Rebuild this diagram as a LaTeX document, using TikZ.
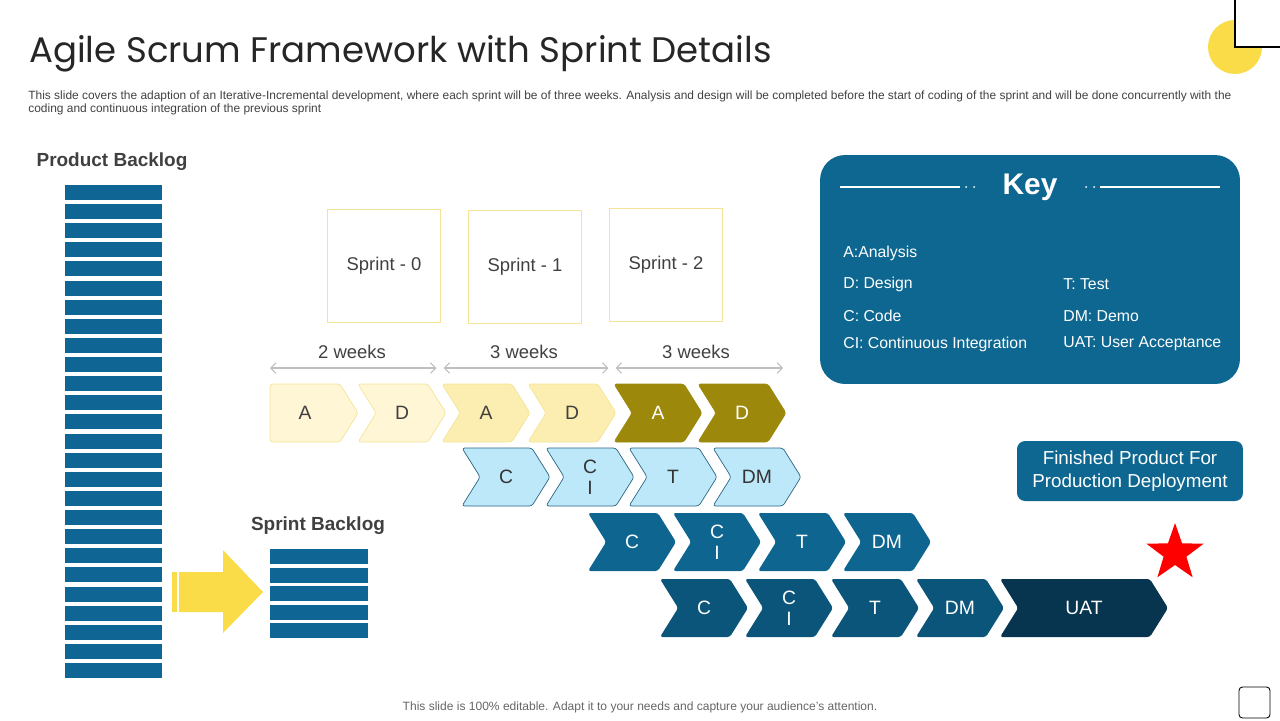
\documentclass[tikz,border=0pt]{standalone}
\usepackage{fontspec}
\setmainfont{Liberation Sans}
\newfontfamily\titlefont{Poppins}
\usepackage{xcolor}
\definecolor{barblue}{RGB}{15,102,148}
\definecolor{keyblue}{RGB}{13,103,145}
\definecolor{rowblue}{RGB}{14,101,144}
\definecolor{deepblue}{RGB}{12,85,122}
\definecolor{uatblue}{RGB}{7,52,78}
\definecolor{skyfill}{RGB}{189,232,249}
\definecolor{skyline}{RGB}{40,100,130}
\definecolor{paleyellow}{RGB}{255,246,214}
\definecolor{midyellow}{RGB}{252,238,176}
\definecolor{edgeyellow}{RGB}{245,228,150}
\definecolor{olive}{RGB}{156,137,11}
\definecolor{sunyellow}{RGB}{249,220,72}
\definecolor{weekgray}{RGB}{191,191,191}
\definecolor{textgray}{RGB}{64,64,64}
\usetikzlibrary{shapes.symbols,shapes.geometric,arrows.meta,positioning}

\begin{document}
\begin{tikzpicture}[
  x=0.02cm, y=-0.02cm,
  chev/.style={signal, signal to=east, signal from=west, signal pointer angle=116,
    minimum width=1.76cm, minimum height=1.16cm, inner sep=0pt,
    rounded corners=1.5pt, font=\fontsize{11}{12}\selectfont, align=center},
  yelA/.style={chev, fill=paleyellow, draw=edgeyellow, text=textgray},
  yelB/.style={chev, fill=midyellow, draw=edgeyellow, text=textgray},
  yelC/.style={chev, fill=olive, draw=olive, text=white},
  skyC/.style={chev, fill=skyfill, draw=skyline, line width=0.4pt, text=black!80},
  rowC/.style={chev, fill=rowblue, text=white},
  deepC/.style={chev, fill=deepblue, text=white},
  sprintbox/.style={rectangle, draw=edgeyellow, line width=0.6pt, minimum width=2.26cm,
    minimum height=2.26cm, font=\fontsize{10.5}{12}\selectfont, text=textgray},
  weekarr/.style={{Straight Barb[length=3pt]}-{Straight Barb[length=3pt]}, weekgray, line width=0.6pt},
  weeklbl/.style={font=\fontsize{10.5}{12}\selectfont, text=textgray},
  keytxt/.style={anchor=west, font=\fontsize{9}{11}\selectfont, text=white, inner sep=0pt},
  headlbl/.style={font=\bfseries\fontsize{10.8}{12}\selectfont, text=textgray}
]
\useasboundingbox (0,0) rectangle (1280,720);

%% title and notes
\node[anchor=west, inner sep=0pt, font=\titlefont\fontsize{20.2}{24}\selectfont, text=black!85] (title) at (29,54)
  {Agile Scrum Framework with Sprint Details};
\node[anchor=north west, inner sep=0pt, align=left, font=\fontsize{6.8}{7.4}\selectfont, text=textgray] (intro) at (28,90)
  {This slide covers the adaption of an Iterative-Incremental development, where each sprint will be of three weeks. Analysis and design will be completed before the start of coding of the sprint and will be done concurrently with the\\
   coding and continuous integration of the previous sprint};
\node[font=\fontsize{6.85}{8}\selectfont, text=black!60] (foot) at (640,707)
  {This slide is 100\% editable. Adapt it to your needs and capture your audience's attention.};

%% corner marks
\fill[sunyellow] (1235,47) circle (27);
\filldraw[fill=white, draw=black, line width=0.6pt] (1235,-5) rectangle (1285,47);
\draw[black, line width=0.5pt, rounded corners=2pt] (1239,687) rectangle (1270,718);

%% product backlog
\node[headlbl] (pblabel) at (112,162) {Product Backlog};
\foreach \i in {0,...,25}
  \fill[barblue] (65,185+19.12*\i) rectangle (162,200+19.12*\i);

%% sprint backlog
\node[headlbl] (sblabel) at (318,526) {Sprint Backlog};
\foreach \i in {0,...,4}
  \fill[barblue] (270,549+18.5*\i) rectangle (368,564+18.5*\i);
\fill[sunyellow] (172,572) rectangle (177,612);
\fill[sunyellow] (179,572) -- (223,572) -- (223,550) -- (263,592) -- (223,633) -- (223,612) -- (179,612) -- cycle;

%% sprints
\node[sprintbox] (sp0) at (384,266) {Sprint - 0};
\node[sprintbox] (sp1) at (525,267) {Sprint - 1};
\node[sprintbox] (sp2) at (666,265) {Sprint - 2};

\coordinate (w0) at (270,368);
\coordinate (w1) at (440,368);
\coordinate (w2) at (612,368);
\coordinate (w3) at (783,368);
\draw[weekarr, shorten >=2] (w0) -- (w1);
\draw[weekarr, shorten <=2, shorten >=2] (w1) -- (w2);
\draw[weekarr, shorten <=2] (w2) -- (w3);
\node[weeklbl] (wk0) at (352,352) {2 weeks};
\node[weeklbl] (wk1) at (524,352) {3 weeks};
\node[weeklbl] (wk2) at (696,352) {3 weeks};

%% chevron rows
\node[yelA, signal from=nowhere] (a0) at (305,413) {A};
\node[yelA] (d0) at (402,413) {D};
\node[yelB] (a1) at (486,413) {A};
\node[yelB] (d1) at (572,413) {D};
\node[yelC] (a2) at (658,413) {A};
\node[yelC] (d2) at (742,413) {D};

\node[skyC] (c1) at (506,477) {C};
\node[skyC] (ci1) at (590,477) {C\\I};
\node[skyC] (t1) at (673,477) {T};
\node[skyC] (dm1) at (757,477) {DM};

\node[rowC] (c2) at (632,542) {C};
\node[rowC] (ci2) at (717,542) {C\\I};
\node[rowC] (t2) at (802,542) {T};
\node[rowC] (dm2) at (887,542) {DM};

\node[deepC] (c3) at (704,608) {C};
\node[deepC] (ci3) at (789,608) {C\\I};
\node[deepC] (t3) at (875,608) {T};
\node[deepC] (dm3) at (960,608) {DM};
\node[deepC, fill=uatblue, minimum width=3.36cm] (uat) at (1084,608) {UAT};

%% key panel
\node[rectangle, fill=keyblue, rounded corners=0.5cm, minimum width=8.4cm, minimum height=4.58cm] (key) at (1030,269.5) {};
\node[font=\bfseries\fontsize{17}{20}\selectfont, text=white] (keyhd) at (1030,187) {Key};
\draw[white, line width=1pt] (840,187) -- (960,187);
\draw[white, line width=1pt] (1100,187) -- (1220,187);
\foreach \x in {966,974,1086,1094} \fill[white] (\x,187) circle (1);
\node[keytxt] (kA) at (843,253) {A:Analysis};
\node[keytxt] (kD) at (843,284) {D: Design};
\node[keytxt] (kC) at (843,316) {C: Code};
\node[keytxt] (kCI) at (843,344) {CI: Continuous Integration};
\node[keytxt] (kT) at (1063,284) {T: Test};
\node[keytxt] (kDM) at (1063,316) {DM: Demo};
\node[keytxt] (kUAT) at (1063,344) {UAT: User Acceptance};

%% finished product
\node[rectangle, fill=keyblue, rounded corners=0.16cm, minimum width=4.52cm, minimum height=1.2cm,
      align=center, text=white, font=\fontsize{10.7}{13}\selectfont] (fin) at (1130,471)
  {Finished Product For\\Production Deployment};
\node[star, star points=5, star point ratio=2.5, fill=red, minimum size=1.2cm, inner sep=0pt] (goal) at (1175,553) {};

\end{tikzpicture}
\end{document}
